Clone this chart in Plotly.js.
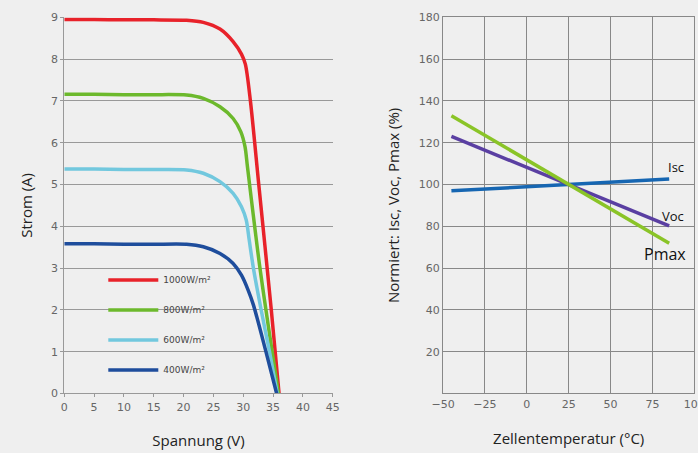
<!DOCTYPE html>
<html>
<head>
<meta charset="utf-8">
<script src="https://cdn.plot.ly/plotly-3.0.1.min.js"></script>
<style>
html,body{margin:0;padding:0;background:#efefef;}
#chart{width:698px;height:453px;}
</style>
</head>
<body>
<div id="chart"></div>
<script>
// ---- IV curves (left) ----
const irrLabels = ["1000W/m²", "800W/m²", "600W/m²", "400W/m²"];
const v1000 = [0, 5, 10, 15, 20.5, 23.3, 26.1, 28.3, 29.7, 30.35, 31.2, 32.6, 34.7, 36.0];
const i1000 = [8.95, 8.95, 8.94, 8.94, 8.93, 8.88, 8.72, 8.42, 8.12, 7.88, 7.0, 5.0, 2.0, 0];
const v800 = [0, 5, 10, 15, 20.5, 23.3, 26.1, 28.3, 29.6, 30.3, 30.7, 32.8, 35.9];
const i800 = [7.16, 7.16, 7.15, 7.15, 7.14, 7.06, 6.86, 6.58, 6.26, 5.90, 5.43, 3.0, 0];
const v600 = [0, 5, 10, 15, 20.5, 23.3, 26.1, 28.3, 29.7, 30.5, 31.0, 31.7, 33.0, 34.4, 35.7];
const i600 = [5.37, 5.37, 5.36, 5.36, 5.35, 5.27, 5.07, 4.79, 4.47, 4.15, 3.67, 3.0, 2.0, 1.0, 0];
const v400 = [0, 5, 10, 15, 20.5, 23.3, 26.1, 28.3, 29.7, 30.8, 31.7, 33.8, 35.6];
const i400 = [3.58, 3.58, 3.57, 3.57, 3.57, 3.51, 3.35, 3.11, 2.83, 2.48, 2.12, 1.0, 0];

// ---- temperature coefficients (right) ----
const temps = [-45, 25, 85];
const isc = [97.0, 100, 102.6];
const voc = [123.0, 100, 80.2];
const pmax = [132.9, 100, 71.9];
const seriesLabels = ["Isc", "Voc", "Pmax"];
const labelPos = {Isc: [89, 108.6], Voc: [87.4, 84.9], Pmax: [82.6, 66.6]};

const xTicks1 = [0, 5, 10, 15, 20, 25, 30, 35, 40, 45];
const yTicks1 = [0, 1, 2, 3, 4, 5, 6, 7, 8, 9];
const xTicks2 = [-50, -25, 0, 25, 50, 75, 100];
const yTicks2 = [20, 40, 60, 80, 100, 120, 140, 160, 180];

const ivColors = ["#e8222a", "#6cb92c", "#72c8de", "#1e4d9c"];
const ivV = [v1000, v800, v600, v400];
const ivI = [i1000, i800, i600, i400];

const traces = [];
for (let k = 0; k < 4; k++) {
  traces.push({
    x: ivV[k], y: ivI[k], type: "scatter", mode: "lines",
    name: irrLabels[k], legendgroup: "g" + k,
    line: {color: ivColors[k], width: 3.5, shape: "spline", smoothing: 0.8},
    xaxis: "x", yaxis: "y"
  });
}
const rColors = ["#1666b2", "#5a3fa2", "#8ac427"];
const rData = [isc, voc, pmax];
for (let k = 0; k < 3; k++) {
  traces.push({
    x: temps, y: rData[k], type: "scatter", mode: "lines",
    name: seriesLabels[k], showlegend: false,
    line: {color: rColors[k], width: 3.5},
    xaxis: "x2", yaxis: "y2"
  });
}

const tickFont = {family: "DejaVu Sans", size: 11, color: "#666"};
const titleFont = {family: "Open Sans", size: 15, color: "#222"};

const annotations = seriesLabels.map((s) => ({
  x: labelPos[s][0], y: labelPos[s][1], xref: "x2", yref: "y2",
  text: s, showarrow: false,
  font: {family: "Open Sans", size: s === "Pmax" ? 16 : 13, color: "#111"}
}));

const layout = {
  width: 698, height: 453,
  paper_bgcolor: "#efefef", plot_bgcolor: "#efefef",
  margin: {l: 0, r: 0, t: 0, b: 0},
  showlegend: true,
  legend: {
    x: 0.148, y: 0.414, xanchor: "left", yanchor: "top",
    bgcolor: "rgba(0,0,0,0)", tracegroupgap: 11, itemwidth: 50,
    font: {family: "DejaVu Sans", size: 9, color: "#444"}
  },
  xaxis: {
    domain: [0.0921, 0.4767], range: [0, 45], tickvals: xTicks1,
    showgrid: false, zeroline: false, showline: true, linecolor: "#999", linewidth: 1,
    ticks: "outside", ticklen: 3, tickcolor: "#999", tickfont: tickFont,
    title: {text: "Spannung (V)", font: titleFont, standoff: 22},
    anchor: "y", fixedrange: true
  },
  yaxis: {
    domain: [0.1314, 0.9617], range: [0, 9], tickvals: yTicks1,
    showgrid: true, gridcolor: "#999", gridwidth: 1, zeroline: false,
    showline: true, linecolor: "#999", linewidth: 1,
    ticks: "outside", ticklen: 3, tickcolor: "#999", tickfont: tickFont,
    title: {text: "Strom (A)", font: titleFont, standoff: 14},
    anchor: "x"
  },
  xaxis2: {
    domain: [0.6347, 0.9947], range: [-50, 100], tickvals: xTicks2,
    ticktext: xTicks2.map(v => v < 0 ? "\u2212" + Math.abs(v) : String(v)),
    ticklabeloverflow: "allow",
    showgrid: true, gridcolor: "#888", gridwidth: 1, zeroline: false,
    showline: true, linecolor: "#888", linewidth: 1, mirror: true,
    ticks: "", tickfont: tickFont,
    title: {text: "Zellentemperatur (°C)", font: titleFont, standoff: 23},
    anchor: "y2"
  },
  yaxis2: {
    domain: [0.1314, 0.9617], range: [0, 180], tickvals: yTicks2,
    showgrid: true, gridcolor: "#888", gridwidth: 1, zeroline: false,
    showline: true, linecolor: "#888", linewidth: 1, mirror: true,
    ticks: "", tickfont: tickFont,
    title: {text: "Normiert: Isc, Voc, Pmax (%)", font: titleFont, standoff: 15},
    anchor: "x2"
  },
  annotations: annotations
};

Plotly.newPlot("chart", traces, layout, {staticPlot: true, displayModeBar: false});
</script>
</body>
</html>
